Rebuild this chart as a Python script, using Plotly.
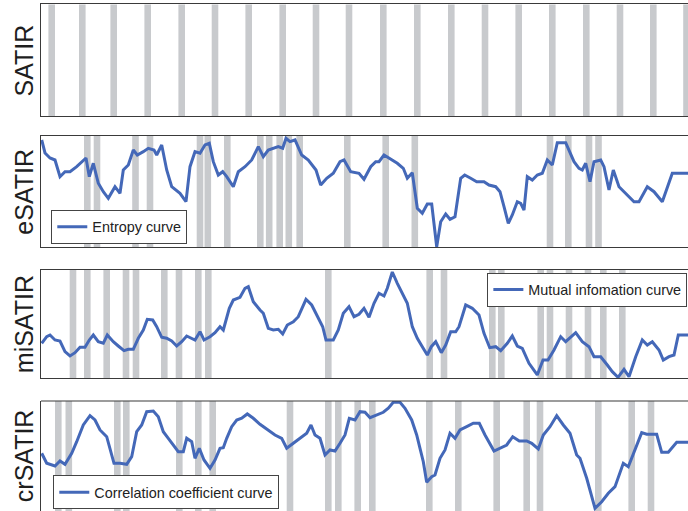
import plotly.graph_objects as go

# ---------------------------------------------------------------------------
# Data: time in samples (0 .. 647), curve values in arbitrary units
# ---------------------------------------------------------------------------
T_END = 647

# Instants flagged by each method (centre of each shaded band)
satir_marks = [10.7, 41.3, 72.7, 106.7, 140.7, 174, 207.7, 241.7, 275, 308,
               342.3, 376.3, 410.3, 444, 477.7, 511.3, 545.3, 579, 612.3, 645.5]
esatir_marks = [46.3, 56, 94.5, 109, 159, 166.8, 186.3, 219.3, 228.2, 238.7,
                247.8, 258.7, 306.3, 344.7, 373.8, 509, 527.3, 548, 557.5]
misatir_marks = [32, 46.3, 65.7, 85, 95, 123.3, 138, 157.3, 167.3, 287.3,
                 388.7, 403, 451.3, 460.3, 499.7, 509, 528, 547, 562.3, 581.3]
crsatir_marks = [17.3, 27.8, 76.3, 85.3, 138.3, 157.3, 171.7, 249, 287.3, 297.3,
                 316.7, 331.3, 388.3, 417.3, 455.7, 485.7, 499, 557.3, 590.7, 610]

# Entropy curve
entropy_t = [0.7, 4, 9, 14, 19, 24, 29, 35.7, 45, 48.3, 52.3, 57.3, 62.3, 67.3,
             74, 79, 82.3, 87.3, 92.3, 96.3, 102.3, 107.3, 113, 115.7, 120.7,
             125.7, 130.7, 139, 145, 149, 154, 159, 164, 168.3, 172.3, 177.3,
             181.7, 185.7, 192.3, 197.3, 204, 210.7, 217.3, 222.3, 227.3, 232.3,
             237.3, 241.7, 245, 249, 254, 260.7, 267.3, 275, 279.7, 285.7, 292.3,
             299, 303, 309.7, 318, 323, 329.7, 334.7, 338, 343, 349.7, 356.3,
             362.3, 366.3, 371.3, 376.3, 381.3, 386.3, 390.7, 393, 395.7, 399.7,
             404.7, 409, 414, 419.7, 423.7, 429.7, 435.7, 443, 448, 454.7, 459,
             463, 467.3, 471.3, 476.3, 479.7, 483, 486.3, 491.3, 496.3, 501.3,
             506.3, 511.3, 516.3, 524.7, 533, 538, 541.3, 544.7, 549, 553, 559.7,
             563, 568, 572.3, 578, 584.7, 593, 598, 606.3, 613, 621.3, 631.3, 647]
entropy_v = [107, 94, 89, 87, 70.3, 75.3, 75.3, 80.3, 89, 70.3, 83.7, 63.7, 55.3,
             48.7, 60.3, 53.7, 77, 82, 97, 92, 95.3, 98.7, 97, 92, 102, 77, 60.3,
             53.7, 45.3, 80.3, 95.3, 93.7, 102, 103.7, 85.3, 72, 75.3, 70.3, 60.3,
             75.3, 80.3, 87, 100.3, 90.3, 97, 98.7, 100.3, 98.7, 108.7, 105.3, 107,
             92, 87, 77, 62, 68.7, 73.7, 85.3, 87, 75.3, 73.7, 67.7, 80.3, 85.3,
             85.3, 92, 87.7, 83.7, 78.7, 68.7, 74.3, 38.7, 33.7, 43, 43, 20.3, 0.3,
             25.3, 33, 27.7, 30.3, 68.7, 72, 68.7, 65.3, 65.3, 62, 60.3, 55.3, 40.3,
             23.7, 32, 45.3, 43.7, 37, 70.3, 67, 72, 73.7, 87, 82, 104.3, 104.3,
             85.3, 78.7, 77, 83.7, 65.3, 85.3, 87, 80.3, 57, 77, 60.3, 53.7, 45.3,
             45.3, 60.3, 55.3, 45.3, 73.7, 73.7]

# Mutual information curve
mutual_t = [0.7, 5.7, 9, 14, 19, 24, 29, 34, 39, 44, 48.3, 52.3, 57.3, 62.3, 66.3,
            72.3, 77.3, 83, 87.3, 92.3, 97.3, 102.3, 106.3, 111.7, 115.7, 120.7,
            125.7, 130.7, 135.7, 140.7, 145.7, 149, 154, 159, 163, 169, 174, 179,
            182.3, 188.3, 192.3, 199, 204, 207.3, 212.3, 219, 222.3, 227.3, 232.3,
            237.3, 241.7, 246.3, 252.3, 257.3, 265, 270.7, 277.3, 281.7, 285,
            292.3, 297.3, 302.3, 308, 313, 318, 323, 328, 333, 338, 343, 346.3,
            351.3, 356.3, 361.3, 366.3, 371.3, 376.3, 381.3, 386.3, 390.3, 394.7,
            400.3, 404.7, 409.7, 414.7, 418, 424.7, 431.3, 438, 443, 448.7, 454.7,
            459.7, 466.3, 471.3, 476.3, 481.3, 488, 496.3, 502, 507, 513, 519.7,
            524.7, 534.7, 541.3, 548, 553, 559.7, 566.3, 571.3, 577, 583, 588,
            594.7, 601.3, 606.3, 611.3, 618, 622.3, 628, 633, 637.3, 647]
mutual_v = [34.7, 41.3, 43, 38, 37, 26.3, 22, 25.3, 30.7, 30.7, 38, 43, 36.3, 34.7,
            43, 36.3, 32, 27.3, 28.7, 28.7, 39.7, 48, 58.7, 58, 51.3, 40.7, 39.7,
            37, 32, 36.3, 42, 40.7, 38, 46.3, 38, 41.3, 45.3, 51.3, 48, 69.7, 78,
            80.7, 89.7, 91.3, 76.3, 68, 64.7, 49.7, 48, 48.7, 44, 53, 56.3, 61.3,
            78.7, 73, 59.7, 51.3, 38, 38, 48, 64.7, 71.3, 61.3, 63.7, 69.7, 60.7,
            74.7, 84.7, 82, 89.7, 106, 94.7, 84.7, 74.7, 51.3, 39.7, 31.3, 23, 31.3,
            36.3, 25.3, 33, 46.3, 46.3, 51.3, 73, 69.7, 63, 44.7, 30.3, 31.3, 27.3,
            34.7, 42, 32, 29.7, 14.7, 3, 18, 18, 28, 41.3, 36.3, 45.3, 36.3, 31.3,
            21.3, 21.3, 13, 6.3, 0.7, 8.7, 1.3, 21.3, 38, 33, 36.3, 28, 18, 21.3,
            23, 43, 43]

# Correlation coefficient curve
correl_t = [0.7, 5.7, 14, 19, 24, 30.7, 35.7, 42.3, 49, 54, 59, 65.7, 73, 79, 85.7,
            90.7, 95.7, 100.7, 105.7, 112.3, 117.3, 122.3, 127.3, 132.3, 137.3,
            142.3, 145.7, 150.7, 154, 158.3, 163, 169, 174, 179, 182.3, 185.7,
            190.7, 195.7, 200.7, 206.3, 212.3, 219, 227.3, 234, 240.7, 245.7, 252.3,
            260.7, 265.7, 270, 274, 279, 284, 289, 294, 299, 304, 308.3, 314, 319,
            324, 329, 335.7, 342.3, 347.3, 352.3, 359, 364, 370.7, 375.7, 379,
            382.3, 385.7, 390.7, 394, 399, 404, 409, 414, 419, 425.7, 432.3, 438.3,
            444, 453, 459, 465.7, 471.7, 478.3, 485.7, 490.7, 497.3, 502.3, 509,
            515.7, 522.3, 529, 535.7, 539, 545.7, 554, 560.7, 567.3, 574, 582.3,
            587.3, 594, 600.7, 605.7, 615.7, 620.7, 627.3, 635.7, 647]
correl_v = [57.7, 47.7, 45, 50, 46.7, 57.7, 69.3, 86, 95.3, 91, 81, 74.3, 47.7, 47.7,
            46.7, 54.3, 79.3, 86, 99.3, 100, 94.3, 79.3, 72.7, 66, 59.3, 59.3, 72.7,
            69.3, 52.7, 62.7, 51, 42.7, 51, 62.7, 63.3, 72.7, 84.3, 91, 92.7, 97,
            92.7, 86.7, 81, 76, 72.7, 62.7, 67.7, 74.3, 77.7, 86, 76, 72.7, 56, 61,
            60, 67.7, 76, 92.7, 91, 99.3, 98.7, 93.3, 96, 98.7, 102.7, 108.7, 108.7,
            102.7, 91, 76, 62.7, 49.3, 28.7, 34.3, 36, 52.7, 61, 77.7, 72.7, 81,
            84.3, 87.7, 87.7, 76, 60, 62.7, 66, 74.3, 70, 70, 67.7, 62, 76, 84.3,
            95.3, 86, 77.7, 56, 52.7, 32.7, 2.7, 9.3, 17.7, 24.3, 47.7, 44.3, 61,
            78.3, 76.7, 76.7, 58.7, 58.7, 68.7, 68.7]

# ---------------------------------------------------------------------------
# Styling
# ---------------------------------------------------------------------------
W, H = 688, 511
LEFT = 41
BLUE = "#4468b8"
BAND = "#c8cacd"
BAND_WIDTH = 6.6
FRAME = "#3a3a3a"
FONT = "Liberation Sans, Arial, sans-serif"

panels = [
    # (label, marks, y-range, vertical domain)
    ("SATIR", satir_marks, [0, 1], [0.7730, 0.9912]),
    ("eSATIR", esatir_marks, [0, 111], [0.5166, 0.7339]),
    ("miSATIR", misatir_marks, [0, 108], [0.2603, 0.4716]),
    ("crSATIR", crsatir_marks, [0, 110], [0.0, 0.2153]),
]

fig = go.Figure()

curves = [
    (2, entropy_t, entropy_v, "Entropy curve", "legend"),
    (3, mutual_t, mutual_v, "Mutual infomation curve", "legend2"),
    (4, correl_t, correl_v, "Correlation coefficient curve", "legend3"),
]
for idx, t, v, name, leg in curves:
    fig.add_trace(go.Scatter(
        x=t, y=v, mode="lines", name=name,
        line=dict(color=BLUE, width=3),
        xaxis=f"x{idx}", yaxis=f"y{idx}", legend=leg, showlegend=True,
    ))

shapes = []
annotations = []
layout_axes = {}
for i, (label, marks, yr, dom) in enumerate(panels, start=1):
    sfx = "" if i == 1 else str(i)
    last = i == len(panels)
    layout_axes[f"xaxis{sfx}"] = dict(
        domain=[0, 1], range=[0, T_END], anchor=f"y{sfx}",
        showticklabels=False, ticks="", showgrid=False, zeroline=False,
        showline=not last, mirror=True, linecolor=FRAME, linewidth=1.2,
    )
    layout_axes[f"yaxis{sfx}"] = dict(
        domain=dom, range=yr, anchor=f"x{sfx}",
        showticklabels=False, ticks="", showgrid=False, zeroline=False,
        showline=True, mirror=False, linecolor=FRAME, linewidth=1.2,
    )
    for m in marks:
        shapes.append(dict(
            type="rect", xref=f"x{sfx}", yref=f"y{sfx} domain",
            x0=m - BAND_WIDTH / 2, x1=m + BAND_WIDTH / 2, y0=0, y1=1,
            fillcolor=BAND, line=dict(width=0), layer="below",
        ))
    if last:
        # bottom panel runs off the page: only its top edge is framed
        shapes.append(dict(
            type="line", xref=f"x{sfx} domain", yref=f"y{sfx} domain",
            x0=0, x1=1, y0=1, y1=1, line=dict(color=FRAME, width=1.2),
        ))
    annotations.append(dict(
        text=label, xref="paper", yref=f"y{sfx} domain",
        x=(24.2 - LEFT) / (W - LEFT), y=0.5, xanchor="center", yanchor="middle",
        textangle=-90, showarrow=False,
        font=dict(family=FONT, size=25, color="#1e1e1e"),
    ))

legend_style = dict(
    bgcolor="white", bordercolor="#444444", borderwidth=1,
    font=dict(family=FONT, size=14.4, color="#222222"),
    itemwidth=30,
)

fig.update_layout(
    width=W, height=H,
    margin=dict(l=LEFT, r=0, t=0, b=0),
    paper_bgcolor="white", plot_bgcolor="white",
    shapes=shapes, annotations=annotations,
    legend=dict(x=0.0159, y=0.5225, xanchor="left", yanchor="bottom", **legend_style),
    legend2=dict(x=0.999, y=0.4667, xanchor="right", yanchor="top", **legend_style),
    legend3=dict(x=0.019, y=0.003, xanchor="left", yanchor="bottom", **legend_style),
    **layout_axes,
)

fig.write_html("out.html")
